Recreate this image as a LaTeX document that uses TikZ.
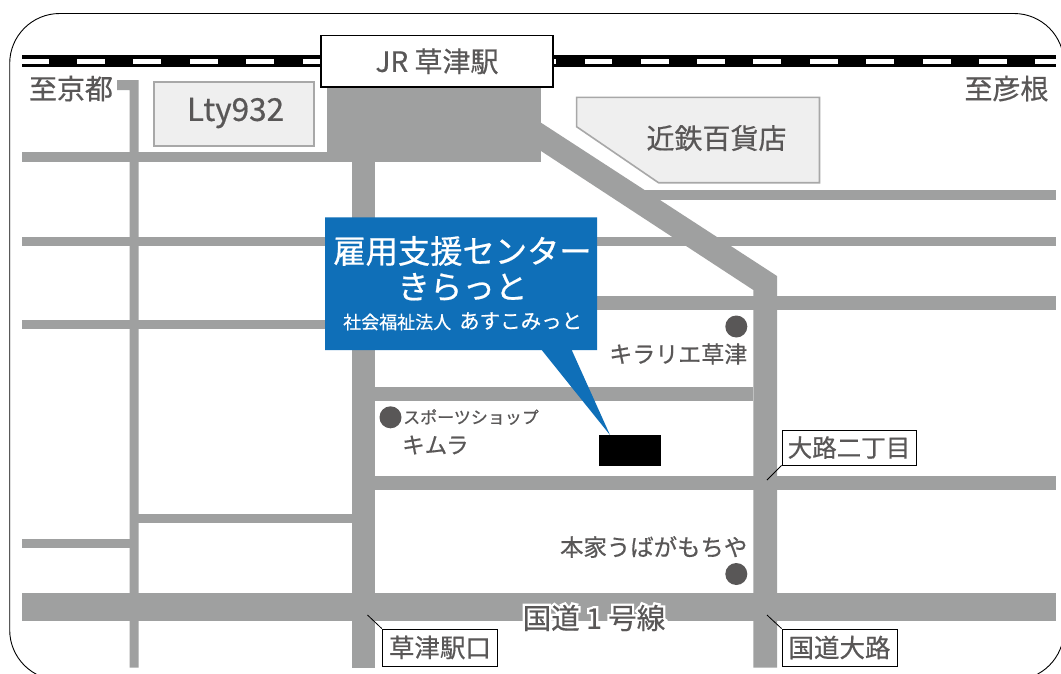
\documentclass[tikz,border=0pt]{standalone}
\usepackage{fontspec}
\setmainfont[FakeBold=0.6]{Noto Sans CJK JP}
\newfontfamily\haloface[FakeBold=17]{Noto Sans CJK JP}
\definecolor{roadc}{HTML}{9FA0A0}
\definecolor{inkc}{HTML}{595757}
\definecolor{bldg}{HTML}{EFEFEF}
\definecolor{bldgl}{HTML}{A8A8A8}
\definecolor{callout}{HTML}{0F6FB8}
\tikzset{
  road/.style={fill=roadc,draw=none},
  building/.style={fill=bldg,draw=bldgl,line width=1.6pt},
  maptext/.style={text=inkc,inner sep=0pt,anchor=center},
  bluetext/.style={text=white,inner sep=0pt,anchor=center},
  signbox/.style={draw=black,fill=white,line width=0.9pt,inner sep=0pt,text=inkc,minimum height=31pt},
  leader/.style={draw=black,line width=0.8pt},
  spot/.style={fill=inkc,draw=none,circle,inner sep=0pt,minimum size=22pt},
}
\newcommand{\fs}[1]{\fontsize{#1}{#1}\selectfont}
\begin{document}
\begin{tikzpicture}[x=1pt,y=-1pt]
\useasboundingbox (0,0) rectangle (1061,673);
\fill[white] (0,0) rectangle (1061,673);
% frame
\begin{scope}
\clip (0,0) rectangle (1061,673);
\draw[black,line width=0.9pt,rounded corners=50pt] (9.7,13.5) rectangle (1064,680);
\end{scope}
% railway
\fill[black] (21.5,55) rectangle (1056,66.7);
\foreach \xa/\xb in {21.5/49,77/105,133/161,190/218,246/274,302.5/325,553/556,585/612,641/669,697/725,753/781,810/838,866/894,922.5/951,979/1007,1035/1056}
  \fill[white] (\xa,58.5) rectangle (\xb,64);
% roads
\fill[road] (117,80) -- (138.5,80) -- (138.5,667.5) -- (129.5,667.5) -- (129.5,90) -- (117,90) -- cycle;
\fill[road] (21.5,152) rectangle (330,161.5);
\fill[road] (327,85) rectangle (541,161.5);
\fill[road] (352,161) rectangle (375,667.5);
\fill[road] (541,122.7) -- (777,276) -- (777,667.5) -- (753.3,667.5) -- (753.3,290) -- (541,151) -- cycle;
\fill[road] (645,190) rectangle (1056,200);
\fill[road] (21.5,236.5) rectangle (1056,246);
\fill[road] (375,296) rectangle (1056,309.5);
\fill[road] (21.5,319.5) rectangle (352,329);
\fill[road] (375,386.5) rectangle (753.3,400.5);
\fill[road] (375,476) rectangle (1056,490);
\fill[road] (138,514) rectangle (352,523.3);
\fill[road] (21.5,539) rectangle (130,548);
\fill[road] (21.5,593) rectangle (1056,621.3);
% buildings
\draw[building] (154,81.7) rectangle (314,145.7);
\draw[building] (576.6,97.3) -- (819.5,97.3) -- (819.5,182.7) -- (658.5,182.7) -- (576.6,126.7) -- cycle;
% station
\node[draw=black,fill=white,line width=1.6pt,minimum width=232pt,minimum height=51.5pt,inner sep=0pt,text=inkc] (station) at (437,61.3) {\fs{28}JR 草津駅};
% labels on the map
\node[maptext] (kyoto) at (71,88.5) {\fs{28}至京都};
\node[maptext] (hikone) at (1006.5,88.5) {\fs{28}至彦根};
\node[maptext] (lty) at (235.5,113) {\fs{31.5}Lty932};
\node[maptext] (kintetsu) at (716.5,138) {\fs{28}近鉄百貨店};
% callout
\fill[callout] (325,217.3) -- (597,217.3) -- (597,350) -- (571.7,350) -- (610,435) -- (541.7,350) -- (325,350) -- cycle;
\node[bluetext] (title) at (462.5,251) {\fs{32.3}雇用支援センター};
\node[bluetext] (kirat) at (462.5,287) {\fs{32.5}きらっと};
\node[bluetext,anchor=west] (corp) at (343,322) {\fs{18}社会福祉法人};
\node[bluetext,anchor=west] (asu) at (459,321) {\fs{20.5}あすこみっと};
% target
\node[fill=black,inner sep=0pt,minimum width=62.5pt,minimum height=31pt] (target) at (630,450.5) {};
% spots
\node[spot] (s1) at (736.3,326.5) {};
\node[spot] (s2) at (390.5,417.3) {};
\node[spot] (s3) at (736.3,574) {};
\node[maptext,anchor=east] (kirarie) at (747.5,354) {\fs{23}キラリエ草津};
\node[maptext,anchor=west] (sports) at (403,417) {\fs{17}スポーツショップ};
\node[maptext,anchor=west] (kimura) at (402,445) {\fs{22.5}キムラ};
\node[maptext,anchor=east] (ubaga) at (747.5,547) {\fs{23.4}本家うばがもちや};
% route 1 label with halo
\node[text=white,inner sep=0pt] (halo) at (594,618) {\haloface\fs{28.5}国道 1 号線};
\node[maptext] (route) at (594,618) {\fs{28.5}国道 1 号線};
% signs
\node[signbox,minimum width=134pt,minimum height=35pt] (sign1) at (849,447.5) {\fs{24.5}大路二丁目};
\node[signbox,minimum width=115.5pt,minimum height=37pt] (sign2) at (440,647.5) {\fs{25.5}草津駅口};
\node[signbox,minimum width=115pt,minimum height=37pt] (sign3) at (839.5,647.5) {\fs{25.5}国道大路};
\coordinate (l1) at (767,480);
\coordinate (l2) at (367.5,615);
\coordinate (l3) at (767,615);
\draw[leader] (sign1.south west) -- (l1);
\draw[leader] (sign2.north west) -- (l2);
\draw[leader] (sign3.north west) -- (l3);
\end{tikzpicture}
\end{document}
